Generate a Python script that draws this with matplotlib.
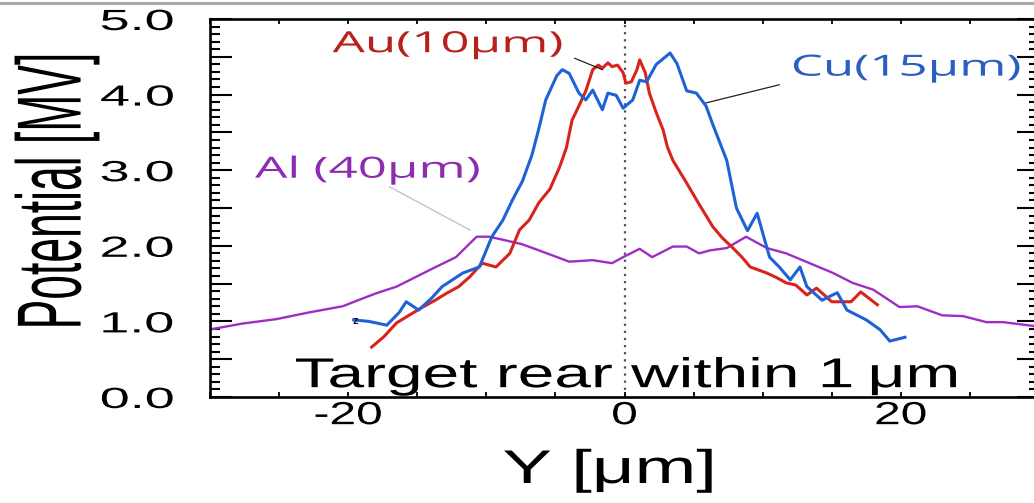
import matplotlib
matplotlib.use("Agg")
import matplotlib.pyplot as plt
from matplotlib.patheffects import AbstractPathEffect
from matplotlib.transforms import Affine2D
from matplotlib.ticker import MultipleLocator, FixedLocator, FuncFormatter
from matplotlib.lines import Line2D

# ---------------- data ----------------
al_x = [-30.1, -27.7, -25.2, -22.8, -20.4, -19.0, -18.0, -16.5, -14.1, -12.2, -10.7, -9.8,
        -8.8, -7.4, -6.2, -4.0, -2.3, -0.9, -0.1, 1.1, 2.0, 3.5, 4.5, 5.4, 6.2, 7.4, 8.8,
        10.3, 11.7, 13.4, 15.1, 16.5, 18.0, 19.9, 21.2, 23.0, 24.5, 26.2, 27.4, 29.6, 30.0]
al_y = [0.89, 0.97, 1.03, 1.12, 1.20, 1.30, 1.37, 1.46, 1.68, 1.85, 2.12, 2.12,
        2.08, 2.02, 1.94, 1.79, 1.81, 1.77, 1.85, 1.96, 1.85, 1.99, 1.99, 1.90, 1.94, 1.97, 2.12,
        1.97, 1.90, 1.77, 1.64, 1.51, 1.42, 1.19, 1.20, 1.08, 1.07, 0.99, 0.99, 0.94, 0.94]

au_x = [-18.3, -17.4, -16.5, -15.6, -14.6, -13.7, -12.9, -12.0, -11.2, -10.3, -9.3, -8.3,
        -7.6, -6.9, -6.2, -5.4, -4.7, -4.2, -3.8, -3.3, -2.8, -2.3, -1.9, -1.6, -1.2, -0.9,
        -0.5, -0.1, 0.1, 0.5, 0.9, 1.1, 1.5, 1.8, 2.3, 2.8, 3.1, 3.5, 4.5, 5.4, 6.4, 7.1, 7.8,
        8.5, 9.1, 10.3, 11.0, 11.7, 12.4, 13.2, 13.9, 15.0, 16.4, 17.1, 18.3]
au_y = [0.66, 0.80, 0.98, 1.08, 1.19, 1.28, 1.37, 1.46, 1.59, 1.77, 1.72, 1.90,
        2.21, 2.34, 2.57, 2.75, 3.04, 3.30, 3.66, 3.85, 4.05, 4.33, 4.39, 4.35, 4.42, 4.37,
        4.39, 4.29, 4.15, 4.17, 4.33, 4.46, 4.29, 4.02, 3.76, 3.53, 3.31, 3.13, 2.83, 2.55, 2.25,
        2.10, 1.98, 1.85, 1.72, 1.64, 1.58, 1.51, 1.48, 1.35, 1.44, 1.26, 1.26, 1.39, 1.22]

cu_x = [-19.6, -18.5, -17.2, -16.3, -15.8, -14.9, -14.0, -13.2, -11.7, -10.5, -9.6, -8.8,
        -8.1, -7.4, -6.7, -6.2, -5.7, -4.9, -4.5, -4.0, -3.3, -2.8, -2.3, -1.6, -1.2, -0.6,
        -0.1, 0.6, 1.1, 1.6, 2.3, 3.3, 3.8, 4.5, 5.2, 5.9, 6.4, 7.4, 8.1, 8.9, 9.6, 10.5,
        11.2, 12.0, 12.7, 13.2, 14.3, 15.4, 16.1, 17.5, 18.5, 19.2, 20.3]
cu_y = [1.02, 1.00, 0.95, 1.12, 1.26, 1.15, 1.30, 1.46, 1.64, 1.72, 2.12, 2.34,
        2.61, 2.85, 3.20, 3.55, 3.93, 4.25, 4.33, 4.28, 4.02, 3.93, 4.06, 3.80, 4.02, 3.99,
        3.82, 3.93, 4.19, 4.17, 4.40, 4.55, 4.41, 4.05, 4.02, 3.85, 3.60, 3.13, 2.50, 2.20,
        2.43, 1.85, 1.72, 1.55, 1.72, 1.46, 1.28, 1.38, 1.15, 1.02, 0.89, 0.74, 0.79]

y_ticks = [0, 1, 2, 3, 4, 5]
x_ticks = [-20, 0, 20]

labels = {
    "au": ("Au(10\u03bcm)", -12.8, 4.66),
    "cu": ("Cu(15\u03bcm)", 20.4, 4.35),
    "al": ("Al (40\u03bcm)", -18.6, 3.00),
}

# ---------------- helpers ----------------
class HStretch(AbstractPathEffect):
    """Stretch rendered text horizontally about its own centre."""
    def __init__(self, sx, offset=(0, 0)):
        super().__init__(offset)
        self.sx = sx

    def draw_path(self, renderer, gc, tpath, affine, rgbFace=None):
        ext = tpath.get_extents(affine)
        cx = 0.5 * (ext.x0 + ext.x1)
        aff = affine + Affine2D().translate(-cx, 0).scale(self.sx, 1.0).translate(cx, 0)
        renderer.draw_path(gc, tpath, aff, rgbFace)


SANS = ["Liberation Sans", "DejaVu Sans"]
LBL = ["Open Sans", "DejaVu Sans"]

fig = plt.figure(figsize=(10.34, 5.03), dpi=100)
ax = fig.add_axes([210 / 1034, 106 / 503, 829 / 1034, 378 / 503])

RED = "#d8241c"
BLUE = "#1e62d6"
PURPLE = "#a02cc6"

ax.axvline(0, color="#505050", lw=1.6, ls=(0, (1, 2.2)), zorder=1)
ax.plot(al_x, al_y, color=PURPLE, lw=1.7, zorder=2)
ax.plot(au_x, au_y, color=RED, lw=2.2, zorder=3)
ax.plot(cu_x, cu_y, color=BLUE, lw=2.2, zorder=4)

ax.set_xlim(-30, 30)
ax.set_ylim(0, 5)

for s in ax.spines.values():
    s.set_linewidth(1.9)

ax.xaxis.set_major_locator(FixedLocator(x_ticks))
ax.xaxis.set_minor_locator(MultipleLocator(5))
ax.yaxis.set_major_locator(MultipleLocator(0.5))
ax.yaxis.set_minor_locator(MultipleLocator(0.1))
ax.yaxis.set_major_formatter(FuncFormatter(
    lambda v, p: ("%.1f" % v) if any(abs(v - t) < 1e-6 for t in y_ticks) else ""))
ax.xaxis.set_major_formatter(FuncFormatter(lambda v, p: "%d" % v))

ax.tick_params(axis="y", which="major", direction="in", length=16, width=1.5,
               left=True, right=True, labelsize=21, pad=38)
ax.tick_params(axis="y", which="minor", direction="in", length=7, width=1.5,
               left=True, right=True)
ax.tick_params(axis="x", which="both", direction="in", length=3.5, width=1.3,
               top=True, bottom=True, labelsize=23, pad=3)

for t in ax.yaxis.get_major_ticks():
    t.label1.set_fontfamily(SANS)
    t.label1.set_path_effects([HStretch(1.85)])
for t in ax.xaxis.get_major_ticks():
    t.label1.set_fontfamily(SANS)
    t.label1.set_path_effects([HStretch(1.5)])

# axis titles
fig.text(57 / 1034, 1 - 191 / 503, "Potential [MV]", rotation=90, ha="center", va="center",
         fontsize=32, family=SANS, path_effects=[HStretch(2.05)])
fig.text(609 / 1034, 1 - 471 / 503, "Y [\u03bcm]", ha="center", va="center",
         fontsize=34, family=SANS, path_effects=[HStretch(1.57)])

# inset caption
ax.text(0.15, 0.13, "Target rear within 1\u2009\u03bcm", ha="center", va="baseline",
        fontsize=30, family=SANS, zorder=5, path_effects=[HStretch(1.58)])

# series labels with leader lines
t, x, y = labels["au"]
ax.text(x, y, t, color="#b8211b", fontsize=21, family=LBL, ha="center", va="center",
        path_effects=[HStretch(1.75)])
ax.plot([-3.6, -1.6], [4.48, 4.33], color="#222222", lw=0.9, zorder=6)

t, x, y = labels["cu"]
ax.text(x, y, t, color="#2a5ec0", fontsize=21, family=LBL, ha="center", va="center",
        path_effects=[HStretch(1.75)])
ax.plot([11.2, 5.9], [4.13, 3.89], color="#222222", lw=0.9, zorder=6)

t, x, y = labels["al"]
ax.text(x, y, t, color="#8e2cb0", fontsize=21, family=LBL, ha="center", va="center",
        path_effects=[HStretch(1.75)])
ax.plot([-17.0, -11.2], [2.78, 2.21], color="#c4c4c4", lw=1.0, zorder=1)

# small glyph at the start of the Cu trace
ax.text(cu_x[0] + 0.1, cu_y[0] - 0.02, "z", fontsize=8, color="#101830", ha="center",
        va="center", family=SANS, fontweight="bold", zorder=6)

# gray top border line of the screenshot
fig.add_artist(Line2D([0, 1], [1 - 2.5 / 503, 1 - 2.5 / 503], color="#a8a8a8", lw=2.2,
                      transform=fig.transFigure))

fig.savefig("out.png", dpi=100)
